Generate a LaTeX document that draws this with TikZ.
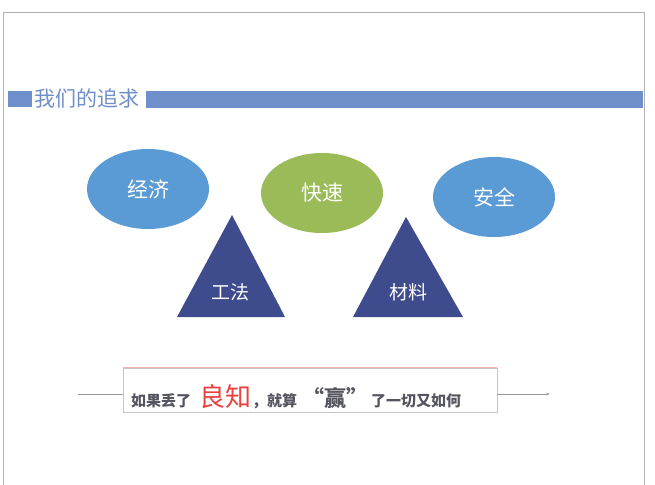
\documentclass[tikz,border=0pt]{standalone}
\usepackage{fontspec}
\newfontfamily\cjk{Noto Sans CJK SC}
\usetikzlibrary{shapes.geometric,arrows.meta}
\definecolor{barblue}{HTML}{6F8FCA}
\definecolor{ellblue}{HTML}{5B9BD5}
\definecolor{ellgreen}{HTML}{9BBB59}
\definecolor{trinavy}{HTML}{3E4C8E}
\definecolor{txtgray}{HTML}{55555F}
\definecolor{redtxt}{HTML}{E8413F}
\tikzset{
  ell/.style={ellipse, minimum width=122pt, minimum height=80pt, inner sep=0pt},
  elltext/.style={text=white, font=\cjk\fontsize{21}{21}\selectfont},
  tri/.style={fill=trinavy},
  tritext/.style={text=white, font=\cjk\fontsize{19}{19}\selectfont, inner sep=0pt},
  small/.style={text=txtgray, font=\cjk\bfseries\fontsize{15}{15}\selectfont, inner sep=0pt, anchor=base west},
  conn/.style={draw=gray!80, line width=0.6pt},
}
\begin{document}
\begin{tikzpicture}[x=1pt,y=-1pt]
\useasboundingbox (0,0) rectangle (655,484);
% page frame
\draw[gray!60, line width=0.8pt] (3,12) -- (644,12);
\draw[gray!60, line width=1pt] (3,12) -- (3,490);
\draw[gray!60, line width=1pt] (644,12) -- (644,490);
% header
\fill[barblue] (8,91) rectangle (32,107);
\node[anchor=west, inner sep=0pt, text=barblue, font=\cjk\fontsize{21}{21}\selectfont] (title) at (34,98) {我们的追求};
\fill[barblue] (146,91) rectangle (643,108);
% ellipses
\node[ell, fill=ellblue, elltext] (jj) at (148,189) {经济};
\node[ell, fill=ellgreen, elltext] (ks) at (322,193) {快速};
\node[ell, fill=ellblue, elltext] (aq) at (494,197) {安全};
% triangles
\fill[tri] (232,215) -- (285,317) -- (177,317) -- cycle;
\fill[tri] (406,217) -- (463,317) -- (353,317) -- cycle;
\node[tritext] (gf) at (230,292) {工法};
\node[tritext] (cl) at (408,292) {材料};
% bottom box
\node[draw=gray!45, line width=0.6pt, minimum width=374pt, minimum height=44pt, inner sep=0pt] (box) at (310,390) {};
\draw[redtxt!40, line width=0.6pt] (box.north west) -- (box.north east);
\coordinate (lstart) at (78,394);
\coordinate (rend) at (550,394);
\draw[conn] (lstart) -- (lstart -| box.west);
\draw[conn, -{Stealth[length=4pt,width=2.5pt]}] (rend -| box.east) -- (rend);
% text
\node[small] (t1) at (131,406) {如果丢了};
\node[anchor=base west, inner sep=0pt, text=redtxt, font=\cjk\fontsize{26}{26}\selectfont] (t2) at (199,406) {良知};
\node[small] (t3) at (252,406) {，就算};
\node[anchor=base west, inner sep=0pt, text=txtgray, font=\cjk\bfseries\fontsize{22}{22}\selectfont] (t4) at (302,406) {“赢”};
\node[small] (t5) at (371,406) {了一切又如何};
\end{tikzpicture}
\end{document}
